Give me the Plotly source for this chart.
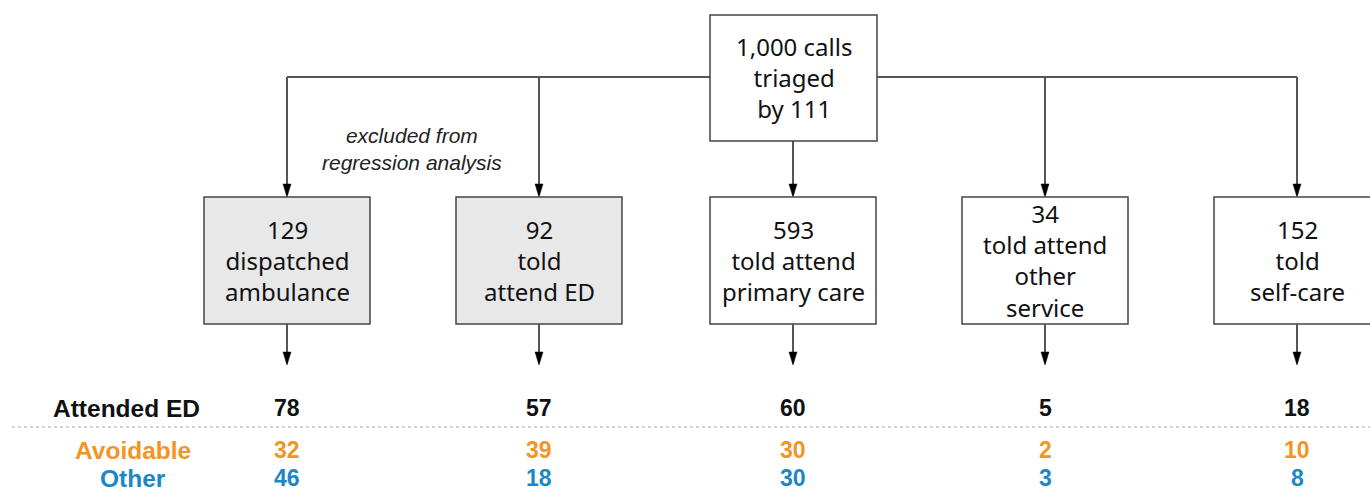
import plotly.graph_objects as go

# ---- data ----
root_label = "1,000 calls<br>triaged<br>by 111"
box_counts = [129, 92, 593, 34, 152]
box_texts = ["dispatched<br>ambulance", "told<br>attend ED", "told attend<br>primary care",
             "told attend<br>other<br>service", "told<br>self-care"]
excluded = [True, True, False, False, False]
attended_ed = [78, 57, 60, 5, 18]
avoidable = [32, 39, 30, 2, 10]
other = [46, 18, 30, 3, 8]
row_labels = ["Attended ED", "Avoidable", "Other"]
note_text = "<i>excluded from<br>regression analysis</i>"

# ---- layout constants (pixel space) ----
W, H = 1370, 489
centers = [287, 539, 793, 1045, 1297]
root_box = (710, 15, 877, 141)
box_half_w = 83
box_top, box_bot = 197, 324
branch_y = 77
arrow_end = 365
row_y = [408, 450, 478]
row_label_x = [126, 133, 133]
row_colors = ["#111111", "#F39426", "#1B87C5"]
line_col = "#555555"

fig = go.Figure()
shapes = []

def arrow_head(x, tip_y):
    return dict(type="path", xref="x", yref="y",
                path=f"M {x-4} {tip_y-13} L {x+4} {tip_y-13} L {x} {tip_y} Z",
                fillcolor="#000000", line=dict(color="#000000", width=0.5), layer="above")

# horizontal branch line
shapes.append(dict(type="line", x0=centers[0], x1=centers[-1], y0=branch_y, y1=branch_y,
                   line=dict(color=line_col, width=2)))
for i, cx in enumerate(centers):
    y0 = root_box[3] if i == 2 else branch_y
    shapes.append(dict(type="line", x0=cx, x1=cx, y0=y0, y1=box_top - 2,
                       line=dict(color=line_col, width=2)))
    shapes.append(arrow_head(cx, box_top))
    # box
    shapes.append(dict(type="rect", x0=cx - box_half_w, x1=cx + box_half_w, y0=box_top, y1=box_bot,
                       fillcolor="#E8E8E8" if excluded[i] else "#FFFFFF",
                       line=dict(color="#444444", width=1.5)))
    # arrow below
    shapes.append(dict(type="line", x0=cx, x1=cx, y0=box_bot, y1=arrow_end - 2,
                       line=dict(color=line_col, width=2)))
    shapes.append(arrow_head(cx, arrow_end))

# root box (on top of branch line)
shapes.append(dict(type="rect", x0=root_box[0], y0=root_box[1], x1=root_box[2], y1=root_box[3],
                   fillcolor="#FFFFFF", line=dict(color="#444444", width=1.5)))

# dotted separator
shapes.append(dict(type="line", x0=12, x1=W, y0=427, y1=427,
                   line=dict(color="#AAAAAA", width=1, dash="dot")))

annotations = []
box_font = dict(family="Noto Sans", size=24, color="#111111")
annotations.append(dict(x=(root_box[0] + root_box[2]) / 2, y=(root_box[1] + root_box[3]) / 2 - 1,
                        text=root_label, showarrow=False, font=box_font, xanchor="center", yanchor="middle"))
for i, cx in enumerate(centers):
    annotations.append(dict(x=cx, y=(box_top + box_bot) / 2, text=f"{box_counts[i]}<br>{box_texts[i]}",
                            showarrow=False, font=box_font, xanchor="center", yanchor="middle"))

annotations.append(dict(x=412, y=149, text=note_text, showarrow=False,
                        font=dict(family="Liberation Sans", size=21, color="#222222"),
                        xanchor="center", yanchor="middle"))

row_values = [attended_ed, avoidable, other]
for r, (lab, vals) in enumerate(zip(row_labels, row_values)):
    lf = dict(family="Liberation Sans", size=24.5, color=row_colors[r])
    nf = dict(family="Liberation Sans", size=23, color=row_colors[r])
    annotations.append(dict(x=row_label_x[r], y=row_y[r], text=f"<b>{lab}</b>", showarrow=False,
                            font=lf, xanchor="center", yanchor="middle"))
    for i, cx in enumerate(centers):
        annotations.append(dict(x=cx, y=row_y[r], text=f"<b>{vals[i]}</b>", showarrow=False,
                                font=nf, xanchor="center", yanchor="middle"))

fig.update_layout(
    width=W, height=H, margin=dict(l=0, r=0, t=0, b=0),
    paper_bgcolor="#FFFFFF", plot_bgcolor="#FFFFFF",
    xaxis=dict(range=[0, W], visible=False, fixedrange=True),
    yaxis=dict(range=[H, 0], visible=False, fixedrange=True),
    shapes=shapes, annotations=annotations, showlegend=False,
)

fig.write_html("out.html", config={"displayModeBar": False},
               post_script="document.body.style.margin='0';document.body.style.overflow='hidden';")
